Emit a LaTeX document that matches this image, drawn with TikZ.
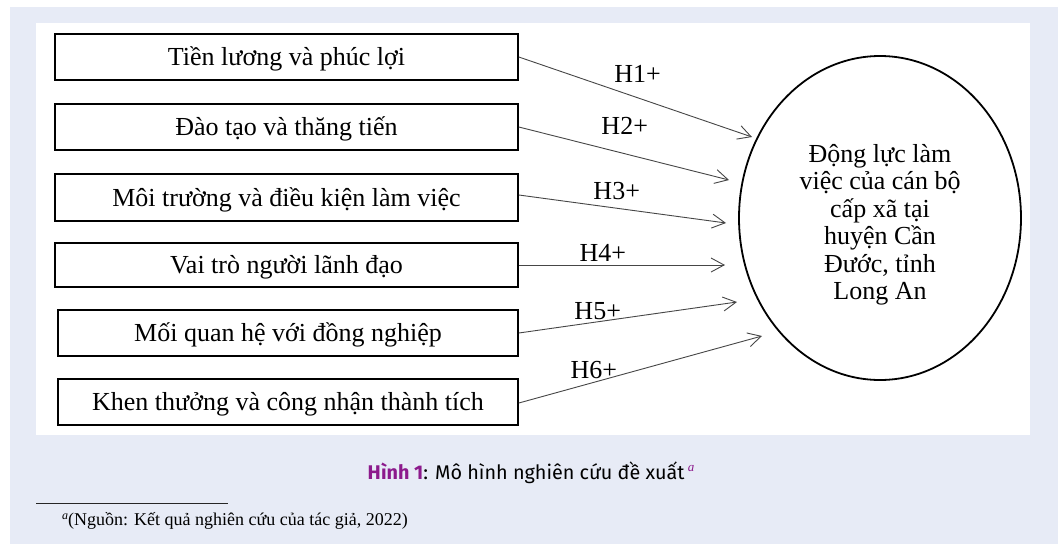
\documentclass[tikz,border=0pt]{standalone}
\usepackage{fontspec}
\setmainfont{Liberation Serif}
\newfontfamily\capfont{Fira Sans}
\usetikzlibrary{shapes.geometric,arrows.meta}
\definecolor{bgblue}{RGB}{231,235,246}
\definecolor{figpurple}{RGB}{140,26,140}
\definecolor{arrowgray}{RGB}{70,70,70}
\begin{document}
\begin{tikzpicture}[x=1pt,y=-1pt,
  factor/.style={draw=black,line width=1.7pt,rectangle,inner sep=0pt,
    font=\fontsize{26}{30}\selectfont,text height=20pt,text depth=3pt},
  hyp/.style={draw=arrowgray,line width=0.9pt,
    -{Straight Barb[length=13pt,width=14pt,line width=0.9pt]}},
  hlabel/.style={anchor=base,inner sep=0pt,font=\fontsize{26}{30}\selectfont},
]
\useasboundingbox (0,0) rectangle (1058,544);
\fill[white] (0,0) rectangle (1058,544);
\fill[bgblue] (10,7) rectangle (1058,544);
\fill[white] (36,23) rectangle (1030,435);

\node[factor,minimum width=463pt,minimum height=46pt] (f1) at (286.5,57) {Tiền lương và phúc lợi};
\node[factor,minimum width=463pt,minimum height=46pt] (f2) at (286.5,127) {Đào tạo và thăng tiến};
\node[factor,minimum width=463pt,minimum height=47pt] (f3) at (286.5,197.5) {Môi trường và điều kiện làm việc};
\node[factor,minimum width=463pt,minimum height=44pt] (f4) at (286.5,265) {Vai trò người lãnh đạo};
\node[factor,minimum width=460pt,minimum height=46pt] (f5) at (288,333) {Mối quan hệ với đồng nghiệp};
\node[factor,minimum width=460pt,minimum height=46pt] (f6) at (288,402) {Khen thưởng và công nhận thành tích};

\node[ellipse,draw=black,line width=1.8pt,minimum width=282pt,minimum height=324pt,
  inner sep=0pt,align=center,font=\fontsize{26}{27.5}\selectfont,
  text height=170pt,text depth=7pt] (goal) at (880,218)
  {Động lực làm\\việc của cán bộ\\cấp xã tại\\huyện Cần\\Đước, tỉnh\\Long An};

\coordinate (t1) at (752,137);
\coordinate (t2) at (729,180);
\coordinate (t3) at (726,223);
\coordinate (t4) at (725,265);
\coordinate (t5) at (737,302);
\coordinate (t6) at (762,336);

\draw[hyp] (f1.east) -- (t1);
\draw[hyp] (f2.east) -- (t2);
\draw[hyp] (f3.east |- 0,195) -- (t3);
\draw[hyp] (f4.east) -- (t4);
\draw[hyp] (f5.east) -- (t5);
\draw[hyp] (f6.east |- 0,403) -- (t6);

\node[hlabel] (h1) at (637.5,82.5) {H1+};
\node[hlabel] (h2) at (624.7,134) {H2+};
\node[hlabel] (h3) at (616.7,199) {H3+};
\node[hlabel] (h4) at (602.8,261) {H4+};
\node[hlabel] (h5) at (597.7,319) {H5+};
\node[hlabel] (h6) at (593.8,378) {H6+};

\node[anchor=base,inner sep=0pt] (cap) at (531,479)
  {\capfont\fontsize{19.8}{22}\selectfont\textcolor{figpurple}{\bfseries Hình 1}: Mô hình nghiên cứu đề xuất\,\raisebox{8pt}{\rmfamily\itshape\fontsize{13}{13}\selectfont\color{figpurple}a}};

\draw[line width=0.8pt,black!85] (36,503) -- (228,503);
\node[anchor=base west,inner sep=0pt] (src) at (62,525)
  {\fontsize{18}{20}\selectfont\raisebox{6pt}{\itshape\fontsize{12}{12}\selectfont a}(Nguồn: Kết quả nghiên cứu của tác giả, 2022)};
\end{tikzpicture}
\end{document}
